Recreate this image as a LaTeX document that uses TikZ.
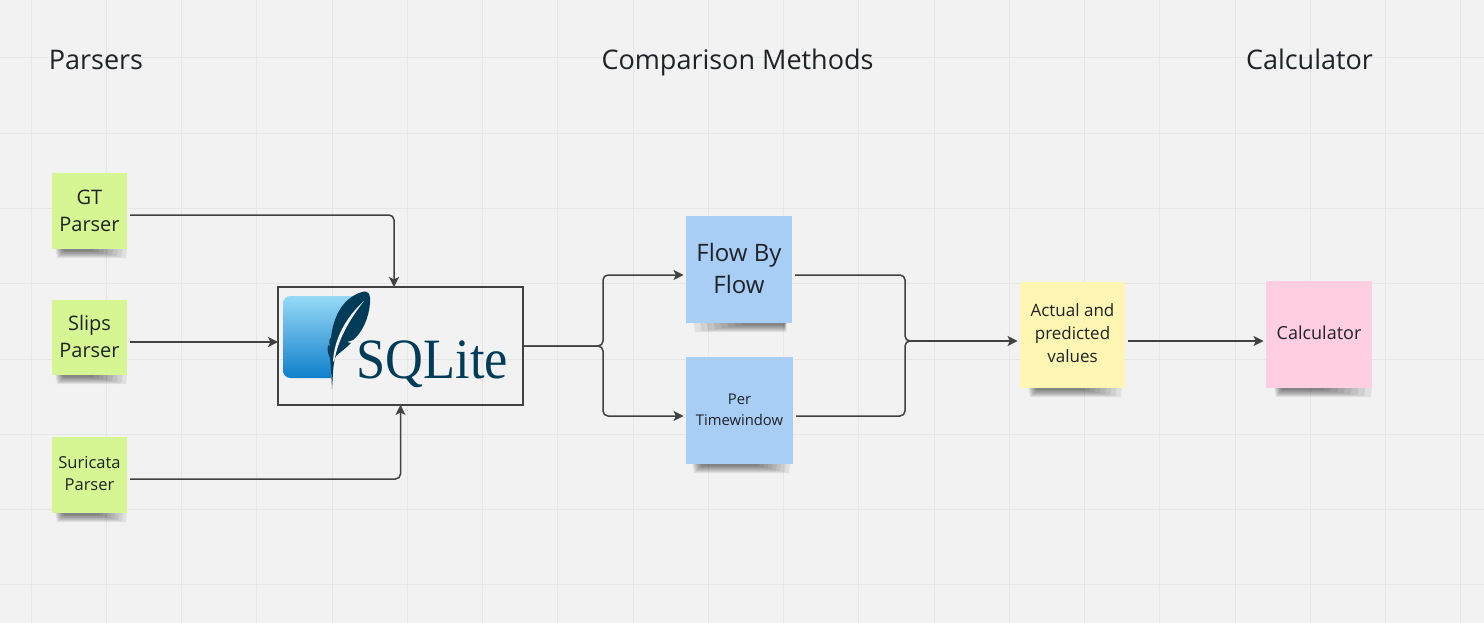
\documentclass[tikz,border=0pt]{standalone}
\usepackage{fontspec}
\setmainfont{Open Sans}
\newfontfamily\logofont{Liberation Serif}
\usetikzlibrary{arrows.meta}
\definecolor{bgc}{HTML}{F2F2F2}
\definecolor{gridc}{HTML}{E6E6E6}
\definecolor{linec}{HTML}{414141}
\definecolor{inkc}{HTML}{1F2226}
\definecolor{greenc}{HTML}{D5F692}
\definecolor{bluec}{HTML}{A9CEF6}
\definecolor{yellowc}{HTML}{FFF6B3}
\definecolor{pinkc}{HTML}{FFCEE0}
\definecolor{logoc}{HTML}{003B57}
\definecolor{logotop}{HTML}{97D9F6}
\definecolor{logobot}{HTML}{0F7FCB}
\newcommand{\lift}[1]{\rule[-#1pt]{0pt}{0pt}}
\tikzset{
  x=1pt,y=-1pt,
  gridline/.style={gridc,line width=1pt},
  sticky/.style={inner sep=0pt,outer sep=0pt,align=center,text=inkc},
  head/.style={inner sep=0pt,outer sep=0pt,text=inkc,anchor=base,font=\fontsize{27}{32}\selectfont},
  conn/.style={linec,line width=1.5pt,rounded corners=5pt,-{Stealth[length=10pt,width=10pt,inset=2.5pt]},shorten <=3pt,shorten >=2.5pt},
  connbox/.style={conn,shorten >=0pt},
  connplain/.style={linec,line width=1.5pt,rounded corners=5pt,shorten <=3pt},
}
\newcommand{\stickyshadow}[5]{% L R bottom coreL coreR
  \foreach \d in {0,...,7}{
    \fill[black,opacity=0.07] ({#1+\d*(#4-#1)/7},#3-2) -- ({#2-\d*(#2-#5)/7},#3-2)
      -- ({#2-1-\d*(#2-#5)/7},#3+9-\d) -- ({#1+2+\d*(#4-#1)/7},#3+9-\d) -- cycle;
  }
}
\begin{document}
\begin{tikzpicture}
\useasboundingbox (0,0) rectangle (1484,623);
\fill[bgc] (0,0) rectangle (1484,623);
% grid
\foreach \k in {0,...,19}{ \draw[gridline] ({31+75.25*\k},0) -- ({31+75.25*\k},623); }
\foreach \k in {0,...,7}{ \draw[gridline] (0,{58+75.25*\k}) -- (1484,{58+75.25*\k}); }
% shadows
\stickyshadow{55}{127}{249}{62}{95}
\stickyshadow{55}{127}{375}{62}{95}
\stickyshadow{55}{127}{513}{62}{100}
\stickyshadow{693}{787}{323}{740}{785}
\stickyshadow{692}{790}{464}{700}{760}
\stickyshadow{1028}{1122}{388}{1035}{1085}
\stickyshadow{1274}{1372}{388}{1280}{1325}
% headers
\node[head] (h1) at (96,70) {Parsers};
\node[head] (h2) at (737.5,70) {Comparison Methods};
\node[head] (h3) at (1309.5,70) {Calculator};
% stickies
\node[sticky,fill=greenc,minimum width=75pt,minimum height=76pt,font=\fontsize{20}{27}\selectfont] (gt) at (89.5,211) {GT\\Parser\lift{1}};
\node[sticky,fill=greenc,minimum width=75pt,minimum height=75pt,font=\fontsize{20}{27}\selectfont] (slips) at (89.5,337.5) {Slips\\Parser\lift{3}};
\node[sticky,fill=greenc,minimum width=75pt,minimum height=76pt,font=\fontsize{16.5}{22.5}\selectfont] (suri) at (89.5,475) {Suricata\\Parser\lift{3}};
\node[sticky,fill=bluec,minimum width=106pt,minimum height=107pt,font=\fontsize{24}{32}\selectfont] (flow) at (739,269.5) {Flow By\\Flow\lift{2}};
\node[sticky,fill=bluec,minimum width=107pt,minimum height=107pt,font=\fontsize{14.8}{21}\selectfont] (per) at (739.5,410.5) {Per\\Timewindow\lift{2}};
\node[sticky,fill=yellowc,minimum width=105pt,minimum height=106pt,font=\fontsize{17}{23}\selectfont] (act) at (1072.5,335) {Actual and\\predicted\\values\lift{3}};
\node[sticky,fill=pinkc,minimum width=106pt,minimum height=107pt,font=\fontsize{18}{22}\selectfont] (calc) at (1319,334.5) {Calculator\lift{3}};
% sqlite box
\node[draw=linec,line width=1.5pt,inner sep=0pt,outer sep=0pt,minimum width=245pt,minimum height=118pt] (sql) at (400.5,346) {};
% logo
\shade[top color=logotop,bottom color=logobot]
  (283,304) .. controls (283,299) and (286,296) .. (291,296) -- (353,296)
  .. controls (342,306) and (333,322) .. (333,338) .. controls (330,345) and (331,362) .. (331,378)
  -- (291,378) .. controls (286,378) and (283,375) .. (283,370) -- cycle;
\fill[logoc] (332,389) .. controls (331.5,378) and (331,368) .. (330,358)
  .. controls (328,354) and (327,350) .. (328,345)
  -- (330,347) .. controls (329,342) and (329,338) .. (331,338)
  .. controls (333,318) and (342,298) .. (362,292)
  .. controls (369,290) and (371,295) .. (370,303)
  .. controls (369,318) and (362,333) .. (353,340)
  -- (347,342) -- (351,343)
  .. controls (344,350) and (338,354) .. (336,356)
  .. controls (333,362) and (333,375) .. (332,389) -- cycle;
\fill[bgc] (333,362) .. controls (334,340) and (345,318) .. (364,301)
  .. controls (349,320) and (338,340) .. (334.5,360) -- cycle;
\node[inner sep=0pt,outer sep=0pt,anchor=base west,text=logoc,xscale=0.92,transform shape,font=\logofont\fontsize{57}{57}\selectfont] (logo) at (356.5,378) {SQLite};
% connectors
\draw[connbox] ([yshift=-4pt]gt.east) -| ([xshift=-6.5pt]sql.north);
\draw[connbox] ([yshift=-4.5pt]slips.east) -- (sql.west |- {0,342});
\draw[connbox] ([yshift=-4pt]suri.east) -| (sql.south);
\draw[conn,shorten <=0pt] (sql.east) -- (603,346) -- (603,275) -- (flow.west |- {0,275});
\draw[conn,shorten <=0pt] (sql.east) -- (603,346) -- (603,416) -- (per.west |- {0,416});
\draw[connplain] (flow.east |- {0,275}) -- (905,275) -- (905,341) -- (912,341);
\draw[connplain] (per.east |- {0,416}) -- (905,416) -- (905,341) -- (912,341);
\draw[conn,shorten <=0pt] (908,341) -- (act.west |- {0,341});
\draw[conn] (act.east |- {0,341}) -- (calc.west |- {0,341});
\end{tikzpicture}
\end{document}
